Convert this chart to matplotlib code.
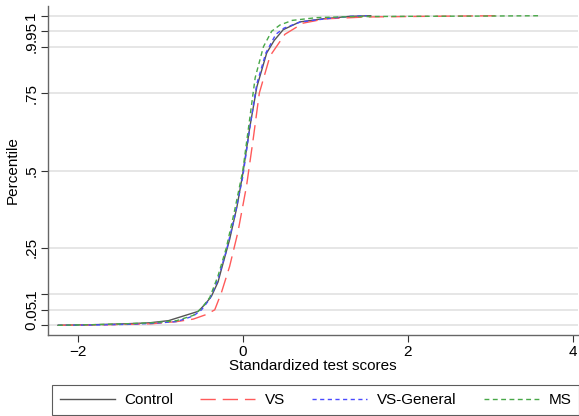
import numpy as np
import matplotlib
matplotlib.use("Agg")
import matplotlib.pyplot as plt

plt.rcParams['font.family'] = ['Liberation Sans', 'DejaVu Sans']

control_x = [-2.24, -1.8, -1.4, -1.13, -0.9, -0.72, -0.54, -0.45, -0.38, -0.3, -0.26,
             -0.16, -0.07, 0.0, 0.085, 0.17, 0.29, 0.38, 0.49, 0.69, 0.97, 1.3, 1.55]
control_y = [0.0, 0.002, 0.005, 0.008, 0.015, 0.03, 0.045, 0.07, 0.094, 0.14, 0.18,
             0.277, 0.384, 0.49, 0.64, 0.77, 0.88, 0.92, 0.955, 0.98, 0.99, 0.998, 1.0]

vs_x = [-2.24, -1.8, -1.4, -1.1, -0.8, -0.6, -0.44, -0.34, -0.26, -0.16, -0.06,
        0.045, 0.125, 0.2, 0.33, 0.51, 0.73, 1.0, 1.5, 2.2, 3.1]
vs_y = [0.0, 0.001, 0.003, 0.005, 0.012, 0.02, 0.035, 0.05, 0.105, 0.19, 0.30,
        0.45, 0.6, 0.75, 0.87, 0.94, 0.976, 0.99, 0.996, 0.998, 1.0]

vsg_x = [-2.24, -1.8, -1.4, -1.1, -0.8, -0.6, -0.5, -0.4, -0.3, -0.2, -0.1,
         0.0, 0.08, 0.17, 0.28, 0.4, 0.5, 0.7, 1.0, 1.3, 1.5]
vsg_y = [0.0, 0.001, 0.003, 0.006, 0.012, 0.03, 0.05, 0.085, 0.15, 0.24, 0.35,
         0.48, 0.63, 0.78, 0.88, 0.94, 0.96, 0.98, 0.99, 0.998, 1.0]

ms_x = [-2.24, -1.8, -1.4, -1.1, -0.8, -0.6, -0.5, -0.4, -0.3, -0.2, -0.1,
        0.0, 0.08, 0.15, 0.25, 0.35, 0.45, 0.6, 0.9, 1.3, 2.0, 3.0, 3.6]
ms_y = [0.0, 0.002, 0.005, 0.008, 0.015, 0.032, 0.055, 0.09, 0.16, 0.25, 0.37,
        0.5, 0.66, 0.8, 0.9, 0.95, 0.97, 0.985, 0.994, 0.997, 0.998, 0.999, 1.0]

y_ticks = [0, 0.05, 0.1, 0.25, 0.5, 0.75, 0.9, 0.95, 1]
y_ticklabels = ['0', '.05', '.1', '.25', '.5', '.75', '.9', '.95', '1']
x_ticks = [-2, 0, 2, 4]

fig = plt.figure(figsize=(5.79, 4.16), dpi=100)
ax = fig.add_axes([0.083, 0.195, 0.915, 0.791])

ax.plot(control_x, control_y, color='#555555', lw=1.0, label='Control')
ax.plot(vs_x, vs_y, color='#ff5a5a', lw=1.0, dashes=(11, 5), label='VS')
ax.plot(vsg_x, vsg_y, color='#4a4aff', lw=1.0, dashes=(3, 2.5), label='VS-General')
ax.plot(ms_x, ms_y, color='#48a848', lw=1.0, dashes=(3.5, 2.5), label='MS')

ax.set_xlim(-2.36, 4.06)
ax.set_ylim(-0.031, 1.032)
ax.set_yticks(y_ticks)
ax.set_yticklabels(y_ticklabels, rotation=90, va='center')
ax.set_xticks(x_ticks)
ax.grid(axis='y', color='#e2e2e2', lw=1.2)
ax.set_axisbelow(True)

for s in ['top', 'right']:
    ax.spines[s].set_visible(False)
for s in ['left', 'bottom']:
    ax.spines[s].set_color('#666666')
    ax.spines[s].set_linewidth(1.0)
ax.tick_params(length=5, width=0.8, color='#333333', labelsize=11, pad=2)

ax.set_xlabel('Standardized test scores', fontsize=11, labelpad=0)
ax.set_ylabel('Percentile', fontsize=11, labelpad=3)

leg = fig.legend(loc='center', bbox_to_anchor=(0.545, 0.0385), ncol=4, fontsize=11,
                 frameon=True, fancybox=False, edgecolor='#333333',
                 handlelength=3.6, handletextpad=0.65, columnspacing=1.75,
                 borderpad=0.5, borderaxespad=0)
leg.get_frame().set_linewidth(0.8)

fig.savefig('out.png', dpi=100)
